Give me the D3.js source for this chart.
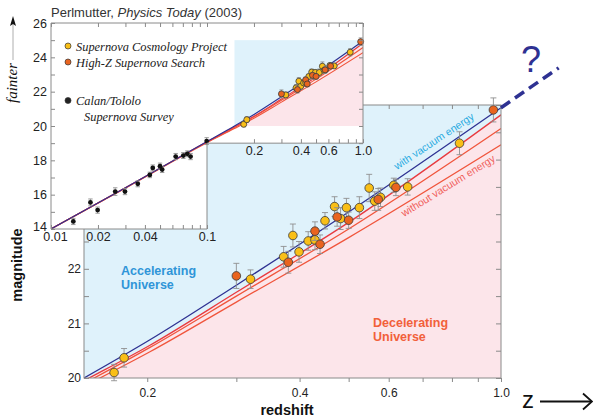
<!DOCTYPE html>
<html>
<head>
<meta charset="utf-8">
<script src="https://cdn.jsdelivr.net/npm/d3@7"></script>
<style>
body { margin: 0; background: #fff; }
text { font-family: "Liberation Sans", Arial, sans-serif; }
</style>
</head>
<body>
<script>
// Supernova Cosmology Project (yellow)
var scpZ = [0.172, 0.180, 0.320, 0.372, 0.388, 0.399, 0.416, 0.429, 0.449, 0.469, 0.482, 0.495, 0.525, 0.549, 0.563, 0.578, 0.614, 0.654, 0.828]
var scpM = [20.10, 20.37, 21.81, 22.22, 22.61, 22.31, 22.51, 22.53, 22.88, 23.14, 22.92, 23.12, 23.12, 23.48, 23.24, 23.31, 23.53, 23.50, 24.30]
var scpErr = [0.15, 0.17, 0.17, 0.19, 0.21, 0.19, 0.17, 0.18, 0.15, 0.18, 0.20, 0.17, 0.20, 0.25, 0.17, 0.17, 0.13, 0.15, 0.21]

// High-Z Supernova Search (orange)
var hzsZ = [0.300, 0.380, 0.429, 0.439, 0.4745, 0.500, 0.572, 0.620, 0.966]
var hzsM = [21.87, 22.12, 22.69, 22.45, 22.95, 22.89, 23.27, 23.49, 24.91]
var hzsErr = [0.23, 0.20, 0.17, 0.17, 0.17, 0.15, 0.20, 0.15, 0.22]

// Calan/Tololo Supernova Survey (black, inset only)
var ctZ = [0.0139, 0.0179, 0.0199, 0.0258, 0.0298, 0.036, 0.043, 0.0449, 0.050, 0.0516, 0.063, 0.0705, 0.0748, 0.0785, 0.0995]
var ctM = [14.44, 15.55, 15.10, 16.18, 16.18, 16.63, 17.15, 17.56, 17.66, 17.46, 18.22, 18.28, 18.38, 18.22, 19.12]
var ctErr = [0.18, 0.2, 0.18, 0.22, 0.18, 0.17, 0.16, 0.17, 0.18, 0.17, 0.18, 0.17, 0.17, 0.18, 0.2]

// model curves
var modelZ = [0.01, 0.03, 0.1, 0.15, 0.2025, 0.3, 0.5, 1.0]
var vacuumM = [14.0, 16.40, 19.10, 20.00, 20.70, 21.70, 23.04, 24.95]
var emptyM = [14.0, 16.40, 19.08, 19.95, 20.60, 21.57, 22.85, 24.82]
var openM = [14.0, 16.40, 19.06, 19.90, 20.56, 21.50, 22.73, 24.57]
var flatM = [14.0, 16.38, 19.03, 19.85, 20.48, 21.39, 22.57, 24.27]
var dashZ = [1.0, 1.3]
var dashM = [24.95, 25.68]

// ticks
var mainXTicks = [0.2, 0.3, 0.4, 0.5, 0.6, 0.7, 0.8, 0.9, 1.0]
var mainXLabels = [0.2, 0.4, 0.6, 1.0]
var mainYTicks = [20, 20.5, 21, 21.5, 22, 22.5, 23, 23.5, 24, 24.5, 25]
var mainYLabels = [20, 21, 22]
var insetXTicks = [0.01, 0.02, 0.03, 0.04, 0.05, 0.06, 0.07, 0.08, 0.09, 0.1, 0.2, 0.3, 0.4, 0.5, 0.6, 0.7, 0.8, 0.9, 1.0]
var insetXLabelsLow = [0.01, 0.02, 0.04, 0.1]
var insetXLabelsHigh = [0.2, 0.4, 0.6, 1.0]
var insetYTicks = [14, 15, 16, 17, 18, 19, 20, 21, 22, 23, 24, 25, 26]

var colors = {
	blueBg: "#dff2fb",
	pinkBg: "#fce5ea",
	vacuum: "#2e3192",
	red1: "#e83a3f",
	red2: "#f0553c",
	scp: "#f9bf17",
	hzs: "#e9641f",
	frame: "#8a8a8a",
	err: "#8f8f8f"
}

var svg = d3.select('body').append('svg')
	.attr('width', 593)
	.attr('height', 418)

var mx = d3.scaleLog().domain([0.15, 1.0]).range([84, 501])
var my = d3.scaleLinear().domain([20, 25]).range([378, 105])
var ix = d3.scaleLog().domain([0.01, 1.0]).range([51, 363])
var iy = d3.scaleLinear().domain([14, 26]).range([229, 23])

function zip(zs, ms) {
	return zs.map(function(z, i) { return [z, ms[i]] })
}

var defs = svg.append('defs')
defs.append('clipPath').attr('id', 'mainClip')
	.append('rect')
	.attr('x', mx(0.15)).attr('y', my(25))
	.attr('width', mx(1.0) - mx(0.15)).attr('height', my(20) - my(25))

var insetPoly = [
	[ix(0.01), iy(26)], [ix(1.0), iy(26)], [ix(1.0), iy(19)],
	[ix(0.1), iy(19)], [ix(0.1), iy(14)], [ix(0.01), iy(14)]
]
defs.append('clipPath').attr('id', 'insetClip')
	.append('polygon')
	.attr('points', insetPoly.map(function(p) { return p.join(',') }).join(' '))
defs.append('clipPath').attr('id', 'boxClip')
	.append('rect')
	.attr('x', ix(0.15)).attr('y', iy(25))
	.attr('width', ix(1.0) - ix(0.15)).attr('height', iy(20) - iy(25))

var models = [
	{m: flatM, color: colors.red2},
	{m: openM, color: colors.red2},
	{m: emptyM, color: colors.red1},
	{m: vacuumM, color: colors.vacuum}
]

function drawErrors(g, pts, x, y, capW) {
	var eg = g.append('g').attr('stroke', colors.err).attr('stroke-width', 0.9)
	pts.forEach(function(p) {
		var px = x(p.z)
		eg.append('line').attr('x1', px).attr('x2', px)
			.attr('y1', y(p.m - p.e)).attr('y2', y(p.m + p.e))
		eg.append('line').attr('x1', px - capW).attr('x2', px + capW)
			.attr('y1', y(p.m - p.e)).attr('y2', y(p.m - p.e))
		eg.append('line').attr('x1', px - capW).attr('x2', px + capW)
			.attr('y1', y(p.m + p.e)).attr('y2', y(p.m + p.e))
	})
}

function drawPanel(g, x, y, clipId, r, errW, strokeW) {
	var line = d3.line()
		.x(function(d) { return x(d[0]) })
		.y(function(d) { return y(d[1]) })
		.curve(d3.curveMonotoneX)

	g.append('g').attr('clip-path', 'url(#' + clipId + ')')
		.selectAll('path')
		.data(models)
		.enter()
		.append('path')
		.attr('d', function(d) { return line(zip(modelZ, d.m)) })
		.attr('fill', 'none')
		.attr('stroke', function(d) { return d.color })
		.attr('stroke-width', strokeW)

	var sets = [
		{z: scpZ, m: scpM, e: scpErr, fill: colors.scp},
		{z: hzsZ, m: hzsM, e: hzsErr, fill: colors.hzs}
	]
	sets.forEach(function(s) {
		var pts = s.z.map(function(z, i) { return {z: z, m: s.m[i], e: s.e[i]} })
		drawErrors(g, pts, x, y, errW)
		g.append('g').selectAll('circle')
			.data(pts)
			.enter()
			.append('circle')
			.attr('cx', function(d) { return x(d.z) })
			.attr('cy', function(d) { return y(d.m) })
			.attr('r', r)
			.attr('fill', s.fill)
			.attr('stroke', '#3a3a3a')
			.attr('stroke-width', 0.8)
	})
}

function styleAxis(g, fontSize) {
	g.select('.domain').remove()
	g.selectAll('.tick line').attr('stroke', colors.frame)
	g.selectAll('.tick text')
		.attr('fill', '#222')
		.style('font-size', fontSize + 'px')
		.style('font-family', '"Liberation Sans", Arial, sans-serif')
}

// ---------- main panel ----------
var main = svg.append('g')
main.append('rect')
	.attr('x', mx(0.15)).attr('y', my(25))
	.attr('width', mx(1.0) - mx(0.15)).attr('height', my(20) - my(25))
	.attr('fill', colors.blueBg)

var pinkArea = d3.area()
	.x(function(d) { return mx(d[0]) })
	.y0(my(20))
	.y1(function(d) { return my(d[1]) })
	.curve(d3.curveMonotoneX)
main.append('path')
	.attr('clip-path', 'url(#mainClip)')
	.attr('d', pinkArea(zip(modelZ, emptyM).filter(function(d) { return d[0] >= 0.15 })))
	.attr('fill', colors.pinkBg)

main.append('text').attr('x', 121).attr('y', 275)
	.attr('fill', '#2f95d8').style('font-size', '12.5px').style('font-weight', 'bold')
	.text('Accelerating')
main.append('text').attr('x', 121).attr('y', 289)
	.attr('fill', '#2f95d8').style('font-size', '12.5px').style('font-weight', 'bold')
	.text('Universe')
main.append('text').attr('x', 373).attr('y', 327)
	.attr('fill', '#f2603a').style('font-size', '12.5px').style('font-weight', 'bold')
	.text('Decelerating')
main.append('text').attr('x', 373).attr('y', 341)
	.attr('fill', '#f2603a').style('font-size', '12.5px').style('font-weight', 'bold')
	.text('Universe')

drawPanel(main, mx, my, 'mainClip', 4.3, 3, 1.3)

main.append('text')
	.attr('transform', 'translate(397,170) rotate(-33.5)')
	.attr('fill', '#27aae1').style('font-size', '10.5px')
	.text('with vacuum energy')
main.append('text')
	.attr('transform', 'translate(404,217) rotate(-31.5)')
	.attr('fill', '#f0605a').style('font-size', '10.5px')
	.text('without vacuum energy')

main.append('rect')
	.attr('x', mx(0.15)).attr('y', my(25))
	.attr('width', mx(1.0) - mx(0.15)).attr('height', my(20) - my(25))
	.attr('fill', 'none').attr('stroke', colors.frame)

var mxb = main.append('g').attr('transform', 'translate(0,' + my(20) + ')')
	.call(d3.axisBottom(mx).tickValues(mainXTicks).tickSize(4).tickPadding(6)
		.tickFormat(function(d) { return mainXLabels.indexOf(d) >= 0 ? d3.format('.1f')(d) : '' }))
styleAxis(mxb, 12)
var mxt = main.append('g').attr('transform', 'translate(0,' + my(25) + ')')
	.call(d3.axisTop(mx).tickValues(mainXTicks).tickSize(-4).tickFormat(''))
styleAxis(mxt, 12)
// labels above 22 sit behind the inset, so only the visible ones are written
var myl = main.append('g').attr('transform', 'translate(' + mx(0.15) + ',0)')
	.call(d3.axisLeft(my).tickValues(mainYTicks).tickSize(-5).tickPadding(3)
		.tickFormat(function(d) { return mainYLabels.indexOf(d) >= 0 ? d : '' }))
styleAxis(myl, 12)
var myr = main.append('g').attr('transform', 'translate(' + mx(1.0) + ',0)')
	.call(d3.axisRight(my).tickValues(mainYTicks).tickSize(-5).tickFormat(''))
styleAxis(myr, 12)

// ---------- inset ----------
var inset = svg.append('g')
inset.append('polygon')
	.attr('points', insetPoly.map(function(p) { return p.join(',') }).join(' '))
	.attr('fill', '#fff')

inset.append('rect')
	.attr('x', ix(0.15)).attr('y', iy(25))
	.attr('width', ix(1.0) - ix(0.15)).attr('height', iy(20) - iy(25))
	.attr('fill', colors.blueBg)
var insetPink = d3.area()
	.x(function(d) { return ix(d[0]) })
	.y0(iy(20))
	.y1(function(d) { return iy(d[1]) })
	.curve(d3.curveMonotoneX)
inset.append('path')
	.attr('clip-path', 'url(#boxClip)')
	.attr('d', insetPink(zip(modelZ, emptyM).filter(function(d) { return d[0] >= 0.15 })))
	.attr('fill', colors.pinkBg)

drawPanel(inset, ix, iy, 'insetClip', 3, 2, 1.1)

var ctPts = ctZ.map(function(z, i) { return {z: z, m: ctM[i], e: ctErr[i]} })
drawErrors(inset, ctPts, ix, iy, 2.2)
inset.append('g').selectAll('circle')
	.data(ctPts)
	.enter()
	.append('circle')
	.attr('cx', function(d) { return ix(d.z) })
	.attr('cy', function(d) { return iy(d.m) })
	.attr('r', 2.4)
	.attr('fill', '#111')

inset.append('polygon')
	.attr('points', insetPoly.map(function(p) { return p.join(',') }).join(' '))
	.attr('fill', 'none').attr('stroke', colors.frame)

var ixt = inset.append('g').attr('transform', 'translate(0,' + iy(26) + ')')
	.call(d3.axisTop(ix).tickValues(insetXTicks).tickSize(-4).tickFormat(''))
styleAxis(ixt, 12)
var ixb = inset.append('g').attr('transform', 'translate(0,' + iy(14) + ')')
	.call(d3.axisBottom(ix).tickValues(insetXTicks.filter(function(d) { return d <= 0.1 }))
		.tickSize(-4).tickPadding(3)
		.tickFormat(function(d) { return insetXLabelsLow.indexOf(d) >= 0 ? d : '' }))
styleAxis(ixb, 12.5)
ixb.selectAll('.tick text').attr('dx', function(d) { return d === 0.01 ? 4 : 0 })
var ixn = inset.append('g').attr('transform', 'translate(0,' + iy(19) + ')')
	.call(d3.axisBottom(ix).tickValues(insetXTicks.filter(function(d) { return d > 0.1 }))
		.tickSize(-4).tickPadding(3)
		.tickFormat(function(d) { return insetXLabelsHigh.indexOf(d) >= 0 ? d3.format('.1f')(d) : '' }))
styleAxis(ixn, 12.5)
var iyl = inset.append('g').attr('transform', 'translate(' + ix(0.01) + ',0)')
	.call(d3.axisLeft(iy).tickValues(insetYTicks).tickSize(-4).tickPadding(4)
		.tickFormat(function(d) { return d % 2 === 0 ? d : '' }))
styleAxis(iyl, 12.5)
iyl.selectAll('.tick text').attr('y', function(d) { return d === 14 ? -3 : 0 })
var iyr = inset.append('g').attr('transform', 'translate(' + ix(1.0) + ',0)')
	.call(d3.axisRight(iy).tickValues(insetYTicks.filter(function(d) { return d >= 19 }))
		.tickSize(-4).tickFormat(''))
styleAxis(iyr, 12)

// legend
var legend = [
	{label: 'Supernova Cosmology Project', fill: colors.scp, y: 46},
	{label: 'High-Z Supernova Search', fill: colors.hzs, y: 62},
	{label: 'Calan/Tololo', fill: '#222', y: 100.5}
]
legend.forEach(function(d) {
	inset.append('circle').attr('cx', 68).attr('cy', d.y).attr('r', 3)
		.attr('fill', d.fill).attr('stroke', '#333').attr('stroke-width', 0.7)
	inset.append('text').attr('x', 76).attr('y', d.y + 4.5)
		.style('font-family', '"Liberation Serif", "Times New Roman", serif')
		.style('font-style', 'italic').style('font-size', '12.4px')
		.attr('fill', '#222')
		.text(d.label)
})
inset.append('text').attr('x', 84).attr('y', 120.5)
	.style('font-family', '"Liberation Serif", "Times New Roman", serif')
	.style('font-style', 'italic').style('font-size', '12.4px')
	.attr('fill', '#222')
	.text('Supernova Survey')

// ---------- extras ----------
var dashLine = d3.line()
	.x(function(d) { return mx(d[0]) })
	.y(function(d) { return my(d[1]) })
svg.append('path')
	.attr('d', dashLine(zip(dashZ, dashM)))
	.attr('fill', 'none')
	.attr('stroke', colors.vacuum)
	.attr('stroke-width', 3.5)
	.attr('stroke-dasharray', '11,6')
svg.append('text').attr('x', 531).attr('y', 72)
	.attr('text-anchor', 'middle')
	.attr('fill', colors.vacuum)
	.style('font-size', '36px')
	.text('?')

svg.append('text').attr('x', 522).attr('y', 408)
	.style('font-size', '24px').attr('fill', '#111')
	.text('z')
svg.append('line').attr('x1', 540).attr('x2', 591).attr('y1', 401.5).attr('y2', 401.5)
	.attr('stroke', '#111').attr('stroke-width', 1.8)
svg.append('path').attr('d', 'M583,393.5 L592,401.5 L583,409.5')
	.attr('fill', 'none').attr('stroke', '#111').attr('stroke-width', 1.8)

svg.append('text')
	.attr('transform', 'translate(22,265) rotate(-90)')
	.attr('text-anchor', 'middle')
	.style('font-size', '14.5px').style('font-weight', 'bold').attr('fill', '#111')
	.text('magnitude')
svg.append('text')
	.attr('x', 287).attr('y', 415)
	.attr('text-anchor', 'middle')
	.style('font-size', '14.5px').style('font-weight', 'bold').attr('fill', '#111')
	.text('redshift')

svg.append('text')
	.attr('transform', 'translate(17,83) rotate(-90)')
	.attr('text-anchor', 'middle')
	.style('font-family', '"Liberation Serif", "Times New Roman", serif')
	.style('font-style', 'italic').style('font-size', '15px').attr('fill', '#111')
	.text('fainter')
svg.append('line').attr('x1', 13).attr('x2', 13).attr('y1', 60).attr('y2', 24)
	.attr('stroke', '#999').attr('stroke-width', 0.8)
svg.append('path').attr('d', 'M13,16 L16,26 L13,24 L10,26 Z').attr('fill', '#111')

var title = svg.append('text').attr('x', 51).attr('y', 17)
	.style('font-size', '13px').attr('fill', '#333')
title.append('tspan').text('Perlmutter, ')
title.append('tspan').style('font-style', 'italic').text('Physics Today')
title.append('tspan').text(' (2003)')
</script>
</body>
</html>
